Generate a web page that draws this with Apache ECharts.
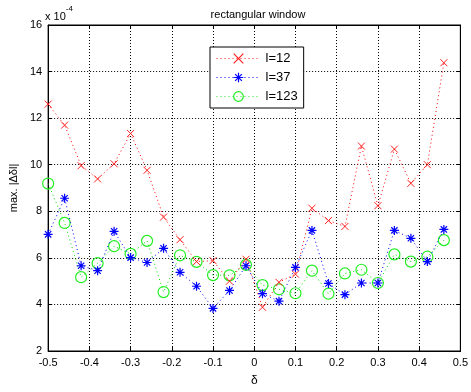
<!DOCTYPE html>
<html>
<head>
<meta charset="utf-8">
<script src="https://cdn.jsdelivr.net/npm/echarts@6/dist/echarts.min.js"></script>
<style>
  html, body { margin: 0; padding: 0; background: #fff; }
  #chart { width: 471px; height: 392px; }
</style>
</head>
<body>
<div id="chart"></div>
<script>
// delta positions (x axis)
const deltas = [-0.5, -0.46, -0.42, -0.38, -0.34, -0.30, -0.26, -0.22, -0.18, -0.14, -0.10, -0.06, -0.02,
  0.02, 0.06, 0.10, 0.14, 0.18, 0.22, 0.26, 0.30, 0.34, 0.38, 0.42, 0.46];

// max |delta delta l|, in units of 1e-4
const l12 = [12.6, 11.7, 9.96, 9.39, 10.04, 11.34, 9.76, 7.75, 6.78, 5.84, 5.88, 5.0, 5.94,
  3.88, 4.95, 5.3, 8.13, 7.6, 7.35, 10.8, 8.24, 10.67, 9.2, 10.0, 14.38];
const l37 = [7.01, 8.56, 5.66, 5.45, 7.14, 6.01, 5.8, 6.41, 5.38, 4.78, 3.83, 4.6, 5.66,
  4.46, 4.14, 5.59, 7.18, 4.9, 4.42, 4.92, 4.92, 7.18, 6.84, 5.84, 7.22];
const l123 = [9.19, 7.5, 5.17, 5.77, 6.5, 6.17, 6.73, 4.53, 6.11, 5.83, 5.26, 5.25, 5.7,
  4.83, 4.65, 4.48, 5.45, 4.46, 5.33, 5.49, 4.92, 6.15, 5.84, 6.05, 6.76];

const seriesNames = ['l=12', 'l=37', 'l=123'];
const colors = ['#ff2020', '#0000ff', '#22ee22'];

const FONT = 'Liberation Sans';
const crossPath = 'path://M0,0L10,10M10,0L0,10';
const starPath = 'path://M5,0L5,10M0,5L10,5M1.5,1.5L8.5,8.5M8.5,1.5L1.5,8.5';

const pairs = ys => deltas.map((d, i) => [d, ys[i]]);

const chart = echarts.init(document.getElementById('chart'));

const dotted = { color: '#000', type: [1, 2], width: 1 };
const dotLine = c => ({ color: c, type: [1, 3], width: 1 });
const hollow = (c, w) => ({ color: 'rgba(0,0,0,0)', borderColor: c, borderWidth: w });

chart.setOption({
  backgroundColor: '#fff',
  animation: false,
  textStyle: { fontFamily: FONT },
  title: {
    text: 'rectangular window',
    left: 253, top: 4, textAlign: 'center',
    textStyle: { fontSize: 11, fontWeight: 'normal', color: '#000', fontFamily: FONT }
  },
  graphic: [{
    type: 'text', left: 45, top: 5,
    style: {
      text: '{a|x 10}{b|-4}',
      rich: {
        a: { fontSize: 11, fill: '#000', fontFamily: FONT, padding: [6, 0, 0, 0] },
        b: { fontSize: 8, fill: '#000', fontFamily: FONT, verticalAlign: 'top' }
      }
    }
  }],
  legend: {
    data: seriesNames.map((n, i) => ({
      name: n,
      lineStyle: dotLine(colors[i]),
      itemStyle: hollow(colors[i], 1.2)
    })),
    orient: 'vertical',
    left: 210, top: 47,
    backgroundColor: '#fff',
    borderColor: '#000', borderWidth: 1,
    padding: [5, 6, 5, 6],
    itemGap: 6,
    itemWidth: 44, itemHeight: 12,
    textStyle: { fontSize: 13, color: '#000', fontFamily: FONT }
  },
  grid: { left: 44, right: 8, top: 25, bottom: 36, show: true, borderColor: '#000', borderWidth: 1 },
  xAxis: [{
    type: 'value', min: -0.5, max: 0.5, interval: 0.1,
    name: 'δ', nameLocation: 'middle', nameGap: 24,
    nameTextStyle: { fontSize: 12, color: '#000' },
    axisLine: { show: true, onZero: false, lineStyle: { color: '#000' } },
    axisTick: { inside: true, length: 4, lineStyle: { color: '#000' } },
    axisLabel: { color: '#000', fontSize: 11, margin: 6, formatter: v => String(+v.toFixed(1)) },
    splitLine: { show: true, lineStyle: dotted }
  }, {
    type: 'value', min: -0.5, max: 0.5, interval: 0.1, position: 'top',
    axisLine: { show: true, onZero: false, lineStyle: { color: '#000' } },
    axisTick: { inside: true, length: 4, lineStyle: { color: '#000' } },
    axisLabel: { show: false }, splitLine: { show: false }
  }],
  yAxis: [{
    type: 'value', min: 2, max: 16, interval: 2,
    name: 'max. |Δδl|', nameLocation: 'middle', nameGap: 26, nameRotate: 90,
    nameTextStyle: { fontSize: 11, color: '#000' },
    axisLine: { show: true, onZero: false, lineStyle: { color: '#000' } },
    axisTick: { inside: true, length: 4, lineStyle: { color: '#000' } },
    axisLabel: { color: '#000', fontSize: 11, margin: 6 },
    splitLine: { show: true, lineStyle: dotted }
  }, {
    type: 'value', min: 2, max: 16, interval: 2, position: 'right',
    axisLine: { show: true, onZero: false, lineStyle: { color: '#000' } },
    axisTick: { inside: true, length: 4, lineStyle: { color: '#000' } },
    axisLabel: { show: false }, splitLine: { show: false }
  }],
  series: [{
    name: seriesNames[0], type: 'line', data: pairs(l12),
    symbol: crossPath, symbolSize: 7,
    lineStyle: dotLine('#ff0000'),
    itemStyle: hollow(colors[0], 1),
    z: 4
  }, {
    name: seriesNames[1], type: 'line', data: pairs(l37),
    symbol: starPath, symbolSize: 9,
    lineStyle: dotLine('#0000ff'),
    itemStyle: hollow(colors[1], 1.2),
    z: 3
  }, {
    name: seriesNames[2], type: 'line', data: pairs(l123),
    symbol: 'circle', symbolSize: 11,
    lineStyle: dotLine('#00dd00'),
    itemStyle: hollow(colors[2], 1.2),
    z: 2
  }]
});
</script>
</body>
</html>
